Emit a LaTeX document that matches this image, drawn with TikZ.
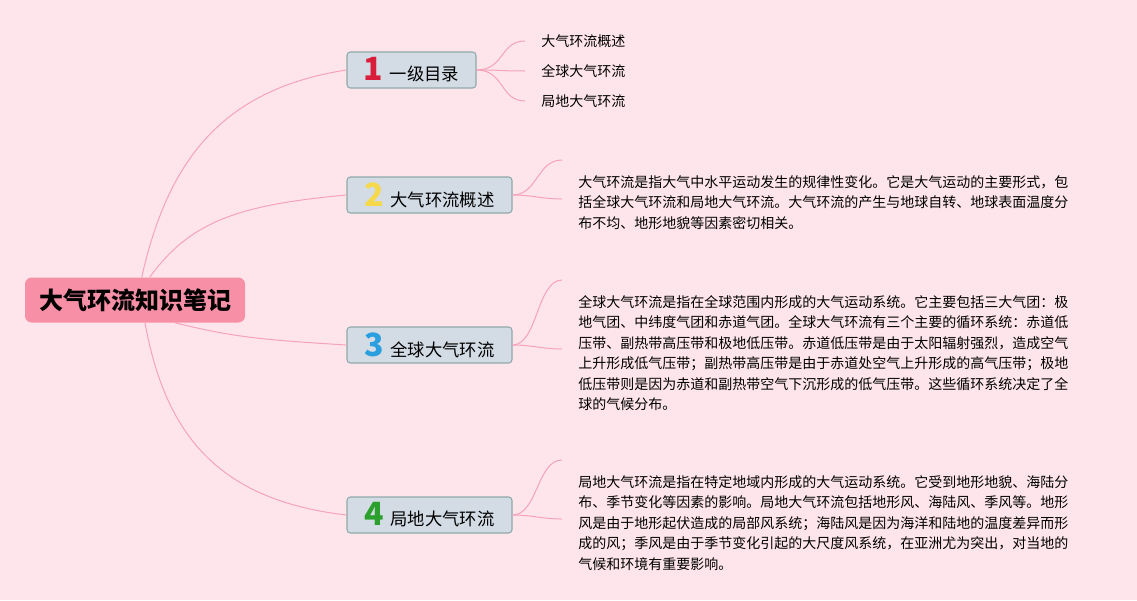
\documentclass[tikz,border=0pt]{standalone}
\usepackage{fontspec}
\setmainfont{Noto Sans CJK SC}
\usetikzlibrary{calc}
\definecolor{bgpink}{RGB}{253,229,235}
\definecolor{rootpink}{RGB}{247,143,167}
\definecolor{boxfill}{RGB}{211,220,229}
\definecolor{boxline}{RGB}{144,169,169}
\definecolor{branch}{RGB}{245,163,187}
\definecolor{nred}{RGB}{216,30,58}
\definecolor{nyellow}{RGB}{245,217,74}
\definecolor{nblue}{RGB}{42,159,224}
\definecolor{ngreen}{RGB}{44,160,44}
\newcommand{\topicnum}[2]{{\fontsize{24}{24}\selectfont\bfseries\color{#1}#2}\hspace{5pt}}
\begin{document}
\begin{tikzpicture}[x=0.75pt,y=-0.75pt,
 root/.style={fill=rootpink,rounded corners=5pt,minimum width=165pt,minimum height=33.75pt,
   font=\fontsize{18}{20}\selectfont\bfseries},
 topic/.style={draw=boxline,fill=boxfill,line width=.8pt,rounded corners=2.5pt,
   minimum height=27pt,inner xsep=8pt,font=\fontsize{13}{15}\selectfont},
 leaf/.style={anchor=west,inner xsep=12pt,inner ysep=2pt,font=\fontsize{10.5}{12}\selectfont},
 desc/.style={anchor=north west,align=left,inner xsep=12pt,inner ysep=11.5pt,
   font=\fontsize{10.5}{15.3}\selectfont},
 link/.style={draw=branch,line width=.75pt}]
 \fill[bgpink] (0,0) rectangle (1137,600);
 \useasboundingbox (0,0) rectangle (1137,600);
 \node[root] (root) at (135,300) {大气环流知识笔记};
 \node[topic,minimum width=96.75pt] (t1) at (411.5,70) {\topicnum{nred}{1}一级目录};
 \node[topic,minimum width=123.75pt] (t2) at (429.5,195) {\topicnum{nyellow}{2}大气环流概述};
 \node[topic,minimum width=123.75pt] (t3) at (429.5,345) {\topicnum{nblue}{3}全球大气环流};
 \node[topic,minimum width=123.75pt] (t4) at (429.5,515) {\topicnum{ngreen}{4}局地大气环流};
 \node[leaf] (l1) at (525,41) {大气环流概述};
 \node[leaf] (l2) at (525,71) {全球大气环流};
 \node[leaf] (l3) at (525,101) {局地大气环流};
 \node[desc] (d2) at (562,160) {大气环流是指大气中水平运动发生的规律性变化。它是大气运动的主要形式，包\\
   括全球大气环流和局地大气环流。大气环流的产生与地球自转、地球表面温度分\\
   布不均、地形地貌等因素密切相关。};
 \node[desc] (d3) at (562,280) {全球大气环流是指在全球范围内形成的大气运动系统。它主要包括三大气团：极\\
   地气团、中纬度气团和赤道气团。全球大气环流有三个主要的循环系统：赤道低\\
   压带、副热带高压带和极地低压带。赤道低压带是由于太阳辐射强烈，造成空气\\
   上升形成低气压带；副热带高压带是由于赤道处空气上升形成的高气压带；极地\\
   低压带则是因为赤道和副热带空气下沉形成的低气压带。这些循环系统决定了全\\
   球的气候分布。};
 \node[desc] (d4) at (562,460) {局地大气环流是指在特定地域内形成的大气运动系统。它受到地形地貌、海陆分\\
   布、季节变化等因素的影响。局地大气环流包括地形风、海陆风、季风等。地形\\
   风是由于地形起伏造成的局部风系统；海陆风是因为海洋和陆地的温度差异而形\\
   成的风；季风是由于季节变化引起的大尺度风系统，在亚洲尤为突出，对当地的\\
   气候和环境有重要影响。};
 \draw[link] ([xshift=5pt]root.north) .. controls +(25,-110) and +(-130,20) .. (t1.west);
 \draw[link] ([xshift=11pt]root.north) .. controls +(40,-55) and +(-110,10) .. (t2.west);
 \draw[link] ([xshift=30pt]root.south) .. controls +(60,15) and +(-80,-5) .. (t3.west);
 \draw[link] ([xshift=7.5pt]root.south) .. controls +(20,110) and +(-130,-15) .. (t4.west);
 \foreach \l in {l1,l2,l3}
   \draw[link] (t1.east) .. controls +(28,0) and +(-25,0) .. (\l.west);
 \foreach \t/\d in {t2/d2,t3/d3,t4/d4} {
   \draw[link] (\t.east) .. controls +(25,0) and +(-25,0) .. (\d.north west);
   \draw[link] (\t.east) .. controls +(20,0) and +(-20,0) .. ($(\d.west |- \t.east)+(0,4)$);
 }
\end{tikzpicture}
\end{document}
